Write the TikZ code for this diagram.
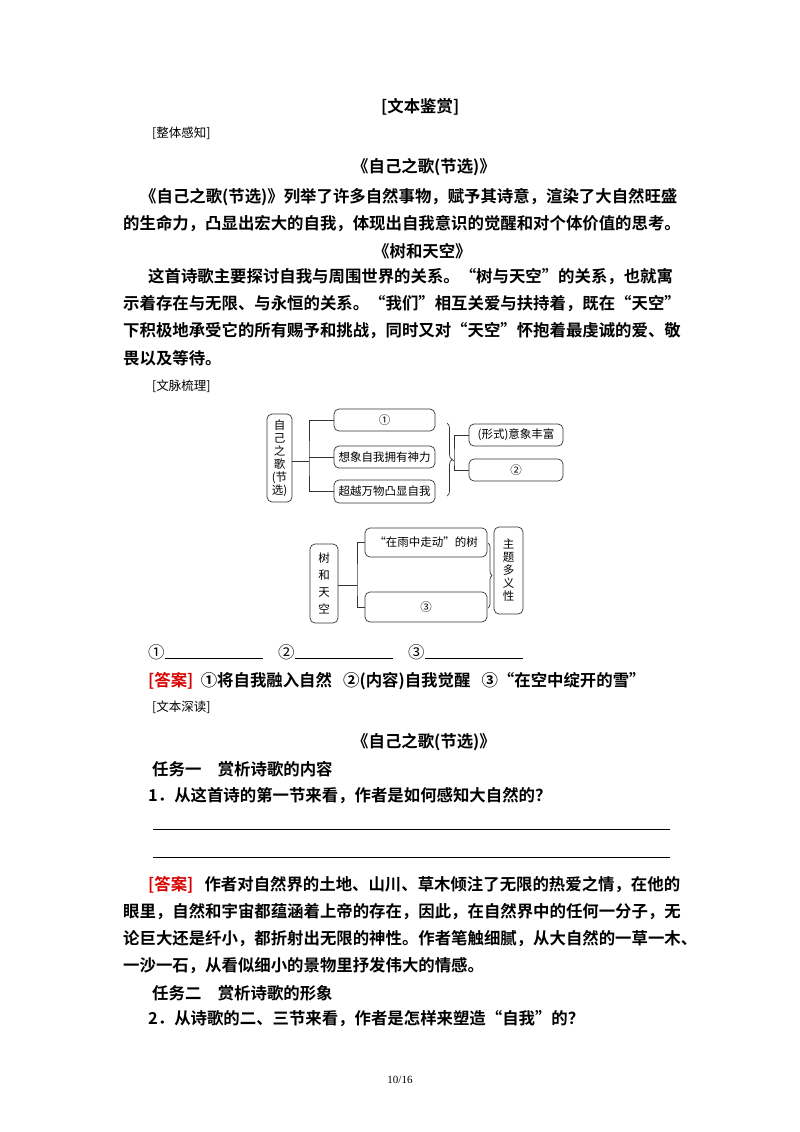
\documentclass[tikz,border=0pt]{standalone}
\usepackage{fontspec}
\setmainfont{Liberation Serif}
\newfontfamily\cjk{Noto Sans CJK SC}
\newfontfamily\cjkb{Noto Sans CJK SC Bold}
\usetikzlibrary{decorations.pathreplacing}
\begin{document}
\begin{tikzpicture}[x=1pt,y=-1pt,
  body/.style={anchor=west,inner sep=0pt,font=\cjkb\fontsize{16.4}{18}\selectfont},
  lab/.style={anchor=west,inner sep=0pt,font=\cjk\fontsize{12.5}{14}\selectfont},
  tbox/.style={draw=black!80,line width=0.7pt,rounded corners=5pt,inner sep=0pt,font=\cjk\fontsize{11.5}{13}\selectfont,align=center},
  con/.style={draw=black!80,line width=0.7pt},
  ans/.style={text=red!85!black}]
\fill[white] (0,0) rectangle (800,1132);
\node[body] (t0) at (381,107) {[文本鉴赏]};
\node[lab] (l1) at (152,133) {[整体感知]};
\node[body] (t1) at (352,167) {《自己之歌(节选)》};
\node[body] (p1) at (140,197) {《自己之歌(节选)》列举了许多自然事物，赋予其诗意，渲染了大自然旺盛};
\node[body] (p2) at (123,224) {的生命力，凸显出宏大的自我，体现出自我意识的觉醒和对个体价值的思考。};
\node[body] (t2) at (373,251) {《树和天空》};
\node[body] (p3) at (148,277) {这首诗歌主要探讨自我与周围世界的关系。“树与天空”的关系，也就寓};
\node[body] (p4) at (123,304) {示着存在与无限、与永恒的关系。“我们”相互关爱与扶持着，既在“天空”};
\node[body] (p5) at (123,331) {下积极地承受它的所有赐予和挑战，同时又对“天空”怀抱着最虔诚的爱、敬};
\node[body] (p6) at (123,358) {畏以及等待。};
\node[lab] (l2) at (152,386) {[文脉梳理]};
% diagram top
\node[tbox,minimum width=25,minimum height=88] (a) at (279.5,458) {自\\己\\之\\歌\\(节\\选)};
\node[tbox,minimum width=101,minimum height=22] (a1) at (384.5,420) {①};
\node[tbox,minimum width=101,minimum height=22] (a2) at (384.5,457) {想象自我拥有神力};
\node[tbox,minimum width=101,minimum height=23] (a3) at (384.5,491.5) {超越万物凸显自我};
\node[tbox,minimum width=94,minimum height=22] (b1) at (516,435) {(形式)意象丰富};
\node[tbox,minimum width=94,minimum height=22] (b2) at (516,470) {②};
\coordinate (j1) at (309,461);
\draw[con] (a.east|-j1) -- (j1);
\draw[con] (a1.west) -| (j1) |- (a3.west);
\draw[con] (j1|-a2.west) -- (a2.west);
\draw[con,decorate,decoration={brace,amplitude=5pt}] (447,423) -- coordinate[xshift=5pt] (bt) (447,496);
\coordinate (j2) at (454,461);
\draw[con] (bt) -- (j2);
\draw[con] (b1.west) -| (j2) |- (b2.west);
% diagram bottom
\node[tbox,minimum width=28,minimum height=79] (c) at (324,583.5) {树\\[4pt]和\\[4pt]天\\[4pt]空};
\node[tbox,minimum width=122,minimum height=29] (c1) at (426,542.5) {“在雨中走动”的树};
\node[tbox,minimum width=122,minimum height=30] (c2) at (426,607) {③};
\node[tbox,minimum width=29,minimum height=87] (d) at (508.5,570.5) {主\\题\\多\\义\\性};
\coordinate (j3) at (357,585);
\draw[con] (c.east|-j3) -- (j3);
\draw[con] (c1.west) -| (j3) |- (c2.west);
\draw[con,decorate,decoration={brace,amplitude=4pt}] (488,543) -- (488,608);
% blanks
\node[body,font=\cjk\fontsize{16.4}{18}\selectfont] (q1) at (148,652) {①\rule{98pt}{0.6pt}};
\node[body,font=\cjk\fontsize{16.4}{18}\selectfont] (q2) at (278,652) {②\rule{98pt}{0.6pt}};
\node[body,font=\cjk\fontsize{16.4}{18}\selectfont] (q3) at (408,652) {③\rule{98pt}{0.6pt}};
\node[body] (an1) at (148,681) {\textcolor{red!85!black}{[答案]}\ \ ①将自我融入自然\ \ \ ②(内容)自我觉醒\ \ \ ③“在空中绽开的雪”};
\node[lab] (l3) at (152,707) {[文本深读]};
\node[body] (t3) at (352,742) {《自己之歌(节选)》};
\node[body] (k1) at (152,769) {任务一\quad 赏析诗歌的内容};
\node[body] (k2) at (148,796) {1．从这首诗的第一节来看，作者是如何感知大自然的？};
\draw[line width=0.7pt] (153,829) coordinate (r1) -- (670,829) coordinate (r1e);
\draw[line width=0.7pt] (153,857) coordinate (r2) -- (670,857) coordinate (r2e);
\node[body] (an2) at (148,885) {\textcolor{red!85!black}{[答案]}\ \ \ 作者对自然界的土地、山川、草木倾注了无限的热爱之情，在他的};
\node[body] (e2) at (123,912) {眼里，自然和宇宙都蕴涵着上帝的存在，因此，在自然界中的任何一分子，无};
\node[body] (e3) at (123,939) {论巨大还是纤小，都折射出无限的神性。作者笔触细腻，从大自然的一草一木、};
\node[body] (e4) at (123,966) {一沙一石，从看似细小的景物里抒发伟大的情感。};
\node[body] (k3) at (152,993) {任务二\quad 赏析诗歌的形象};
\node[body] (k4) at (148,1019) {2．从诗歌的二、三节来看，作者是怎样来塑造“自我”的？};
\node[font=\fontsize{11}{12}\selectfont] (pg) at (400,1080) {10/16};
\end{tikzpicture}
\end{document}
